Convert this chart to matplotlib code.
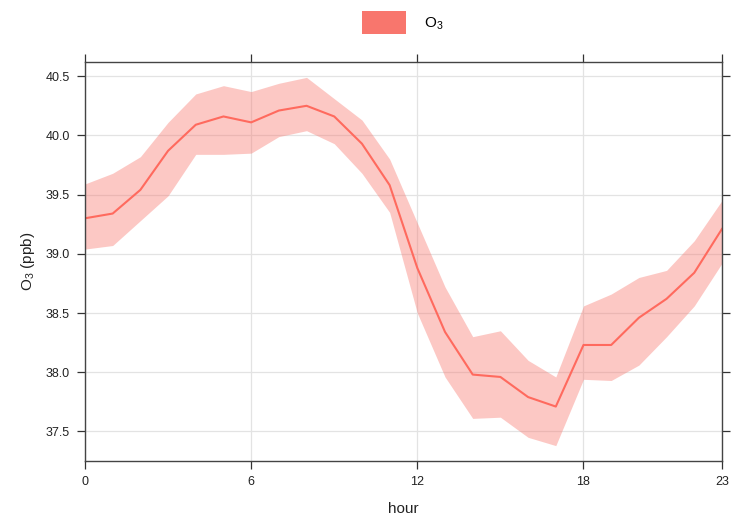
import numpy as np
import matplotlib
matplotlib.use("Agg")
import matplotlib.pyplot as plt
from matplotlib.patches import Patch

plt.rcParams['font.family'] = ['Liberation Sans', 'DejaVu Sans']
plt.rcParams['mathtext.fontset'] = 'custom'
plt.rcParams['mathtext.rm'] = 'Liberation Sans'
plt.rcParams['mathtext.it'] = 'Liberation Sans:italic'

# hourly mean O3 with confidence band
hours = list(range(24))
o3_mean = [39.30, 39.34, 39.54, 39.87, 40.09, 40.16, 40.11, 40.21, 40.25, 40.16, 39.93, 39.58,
           38.88, 38.34, 37.98, 37.96, 37.79, 37.71, 38.23, 38.23, 38.46, 38.62, 38.84, 39.21]
o3_upper = [39.59, 39.68, 39.82, 40.11, 40.35, 40.42, 40.37, 40.44, 40.49, 40.31, 40.13, 39.80,
            39.26, 38.72, 38.30, 38.35, 38.10, 37.96, 38.56, 38.66, 38.80, 38.86, 39.11, 39.45]
o3_lower = [39.04, 39.07, 39.28, 39.49, 39.84, 39.84, 39.85, 39.99, 40.04, 39.93, 39.68, 39.35,
            38.50, 37.96, 37.61, 37.62, 37.45, 37.38, 37.94, 37.93, 38.06, 38.30, 38.56, 38.92]
xticks = [0, 6, 12, 18, 23]
yticks = [37.5, 38.0, 38.5, 39.0, 39.5, 40.0, 40.5]

col = "#F8766D"

fig = plt.figure(figsize=(7.32, 5.24), dpi=100)
ax = fig.add_axes([0.1161, 0.1202, 0.8702, 0.7615])

ax.fill_between(hours, o3_lower, o3_upper, color=col, alpha=0.4, linewidth=0)
ax.plot(hours, o3_mean, color="#FF6A5E", lw=1.5)

ax.set_xlim(0, 23)
ax.set_ylim(37.25, 40.62)
ax.set_xticks(xticks)
ax.set_yticks(yticks)
ax.set_yticklabels([f"{v:.1f}" for v in yticks])
ax.grid(True, color="#e3e3e3", lw=0.9)
ax.set_axisbelow(True)

for s in ax.spines.values():
    s.set_color("#444444")
    s.set_linewidth(1.0)
ax.tick_params(direction="out", length=6, width=0.9, color="#333333",
               labelsize=9, labelcolor="#222222", top=True, right=True,
               labeltop=False, labelright=False, pad=5)

ax.set_xlabel("hour", fontsize=11, labelpad=10, color="#222222")
ax.set_ylabel("O$_3$ (ppb)", fontsize=11, labelpad=6, color="#222222")

fig.legend(handles=[Patch(facecolor=col, edgecolor="none", label="O$_3$")],
           loc="upper center", bbox_to_anchor=(0.55, 1.005), frameon=False,
           fontsize=11, handlelength=2.9, handleheight=1.9, handletextpad=1.2)

fig.savefig("out.png", dpi=100)
